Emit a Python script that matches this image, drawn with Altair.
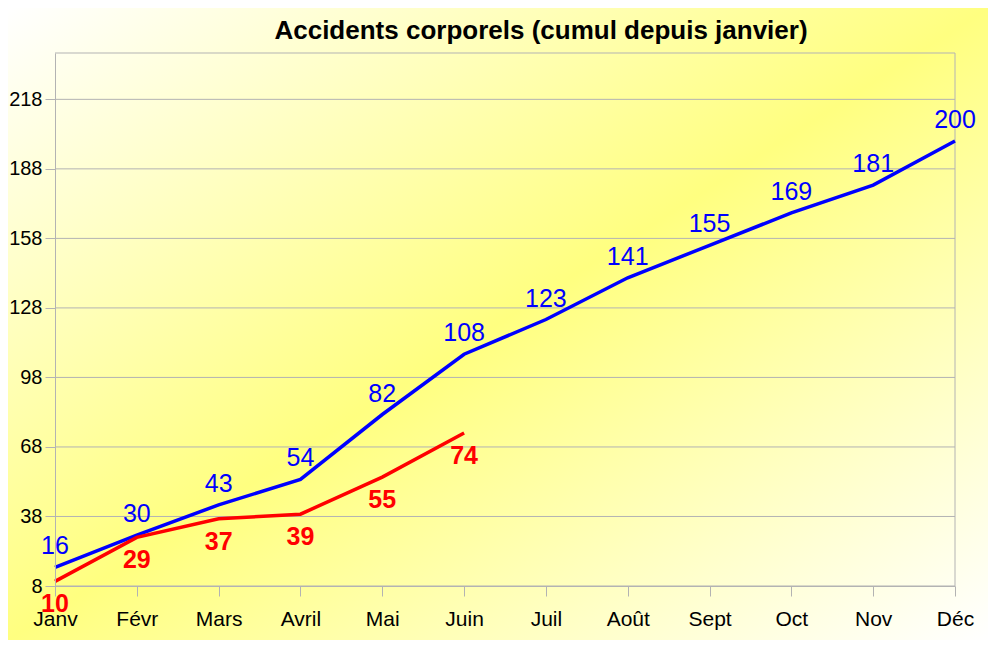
import altair as alt
import pandas as pd

months = ["Janv", "Févr", "Mars", "Avril", "Mai", "Juin", "Juil", "Août", "Sept", "Oct", "Nov", "Déc"]
blue_values = [16, 30, 43, 54, 82, 108, 123, 141, 155, 169, 181, 200]
red_values = [10, 29, 37, 39, 55, 74]
y_ticks = [8, 38, 68, 98, 128, 158, 188, 218]
title_text = "Accidents corporels (cumul depuis janvier)"

W, H = 900, 533
PAD = {"left": 47, "top": 45, "right": 33, "bottom": 54}
FONT = "Liberation Sans"
GRID = "#b3b3b3"

blue_df = pd.DataFrame({"mois": months, "val": blue_values})
red_df = pd.DataFrame({"mois": months[:len(red_values)], "val": red_values})
ticks_df = pd.DataFrame({"v": y_ticks})
one = pd.DataFrame({"t": [title_text]})

x_enc = alt.X("mois:N", sort=months, scale=alt.Scale(padding=0),
              axis=alt.Axis(title=None, labelAngle=0, labelFont=FONT, labelFontSize=21,
                            labelColor="black", labelPadding=12, tickSize=10, tickColor=GRID,
                            domainColor=GRID, grid=False, zindex=1))
y_scale = alt.Scale(domain=[8, 238], nice=False, zero=False)
y_enc = alt.Y("val:Q", scale=y_scale,
              axis=alt.Axis(title=None, values=y_ticks, labelFont=FONT, labelFontSize=20,
                            labelColor="black", labelPadding=3, tickSize=10, tickColor=GRID,
                            domainColor=GRID, grid=False, zindex=1))

gradient = alt.LinearGradient(
    gradient="linear",
    stops=[alt.GradientStop(color="#ffffff", offset=0),
           alt.GradientStop(color="#ffff80", offset=0.5),
           alt.GradientStop(color="#ffffff", offset=1)],
    x1=0, y1=0, x2=1, y2=1)

bg = alt.Chart(one).mark_rect(clip=False, color=gradient).encode(
    x=alt.value(-PAD["left"]), x2=alt.value(W + PAD["right"]),
    y=alt.value(-PAD["top"]), y2=alt.value(H + PAD["bottom"]))

grid = alt.Chart(ticks_df).mark_rule(color=GRID, strokeWidth=1).encode(
    y=alt.Y("v:Q", scale=y_scale))

top_border = alt.Chart(one).mark_rule(color=GRID, strokeWidth=1).encode(
    x=alt.value(0), x2=alt.value(W), y=alt.value(0))
right_border = alt.Chart(one).mark_rule(color=GRID, strokeWidth=1).encode(
    x=alt.value(W), y=alt.value(0), y2=alt.value(H))

title = alt.Chart(one).mark_text(font=FONT, fontSize=26, fontWeight="bold", color="black",
                                 align="center", baseline="alphabetic").encode(
    x=alt.value(W / 2 + 36), y=alt.value(-14), text="t:N")

blue_line = alt.Chart(blue_df).mark_line(color="#0000ff", strokeWidth=3.5).encode(x=x_enc, y=y_enc)
red_line = alt.Chart(red_df).mark_line(color="#ff0000", strokeWidth=3.5).encode(x=x_enc, y=y_enc)

blue_text = alt.Chart(blue_df).mark_text(color="#0000ff", font=FONT, fontSize=25, dy=-13,
                                         baseline="alphabetic", align="center").encode(
    x=x_enc, y=y_enc, text="val:Q")
red_text = alt.Chart(red_df).mark_text(color="#ff0000", font=FONT, fontSize=25, fontWeight="bold",
                                       dy=31, baseline="alphabetic", align="center").encode(
    x=x_enc, y=y_enc, text="val:Q")

chart = alt.layer(bg, grid, top_border, right_border, title, blue_line, red_line,
                  blue_text, red_text).properties(
    width=W, height=H,
    padding=PAD,
    autosize=alt.AutoSizeParams(type="none"),
).configure_view(stroke=None)

chart.save("out.html", embed_options={"renderer": "svg", "actions": False})
